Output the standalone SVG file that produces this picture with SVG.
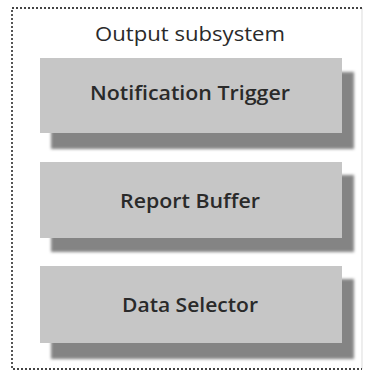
<svg xmlns="http://www.w3.org/2000/svg" width="367" height="378" viewBox="0 0 367 378">
<defs>
<filter id="blur" x="-10%" y="-20%" width="120%" height="140%"><feGaussianBlur stdDeviation="1.6"/></filter>
</defs>
<style>
.frame{fill:none;stroke:#444;stroke-width:1.8;stroke-dasharray:2 2}
.frame-faint{fill:none;stroke:#e2e2e2;stroke-width:1.2}
.box{fill:#c6c6c6}
.shadow{fill:#848484;filter:url(#blur)}
.title{font-family:"Open Sans","Noto Sans",sans-serif;font-size:20.5px;fill:#2a2a2a;text-anchor:middle}
.label{font-family:"Open Sans","Noto Sans",sans-serif;font-size:20.5px;font-weight:600;fill:#2a2a2a;text-anchor:middle}
</style>
<rect width="367" height="378" fill="#fff"/>
<g id="subsystem">
<path class="frame-faint" d="M362 8 V369"/>
<path class="frame" d="M362 8 H12 V369 H362"/>
<text class="title" x="190" y="41" textLength="190" lengthAdjust="spacingAndGlyphs">Output subsystem</text>
</g>
<g id="notification-trigger">
<rect class="shadow" x="51" y="72" width="303" height="77"/>
<rect class="box" x="40" y="58" width="302" height="75"/>
<text class="label" x="190" y="100" textLength="200" lengthAdjust="spacingAndGlyphs">Notification Trigger</text>
</g>
<g id="report-buffer">
<rect class="shadow" x="51" y="175" width="303" height="77"/>
<rect class="box" x="40" y="162" width="302" height="76"/>
<text class="label" x="190" y="208" textLength="140" lengthAdjust="spacingAndGlyphs">Report Buffer</text>
</g>
<g id="data-selector">
<rect class="shadow" x="51" y="279" width="303" height="80"/>
<rect class="box" x="40" y="266" width="302" height="77"/>
<text class="label" x="190" y="312" textLength="136" lengthAdjust="spacingAndGlyphs">Data Selector</text>
</g>
<g id="connectors"/>
</svg>
